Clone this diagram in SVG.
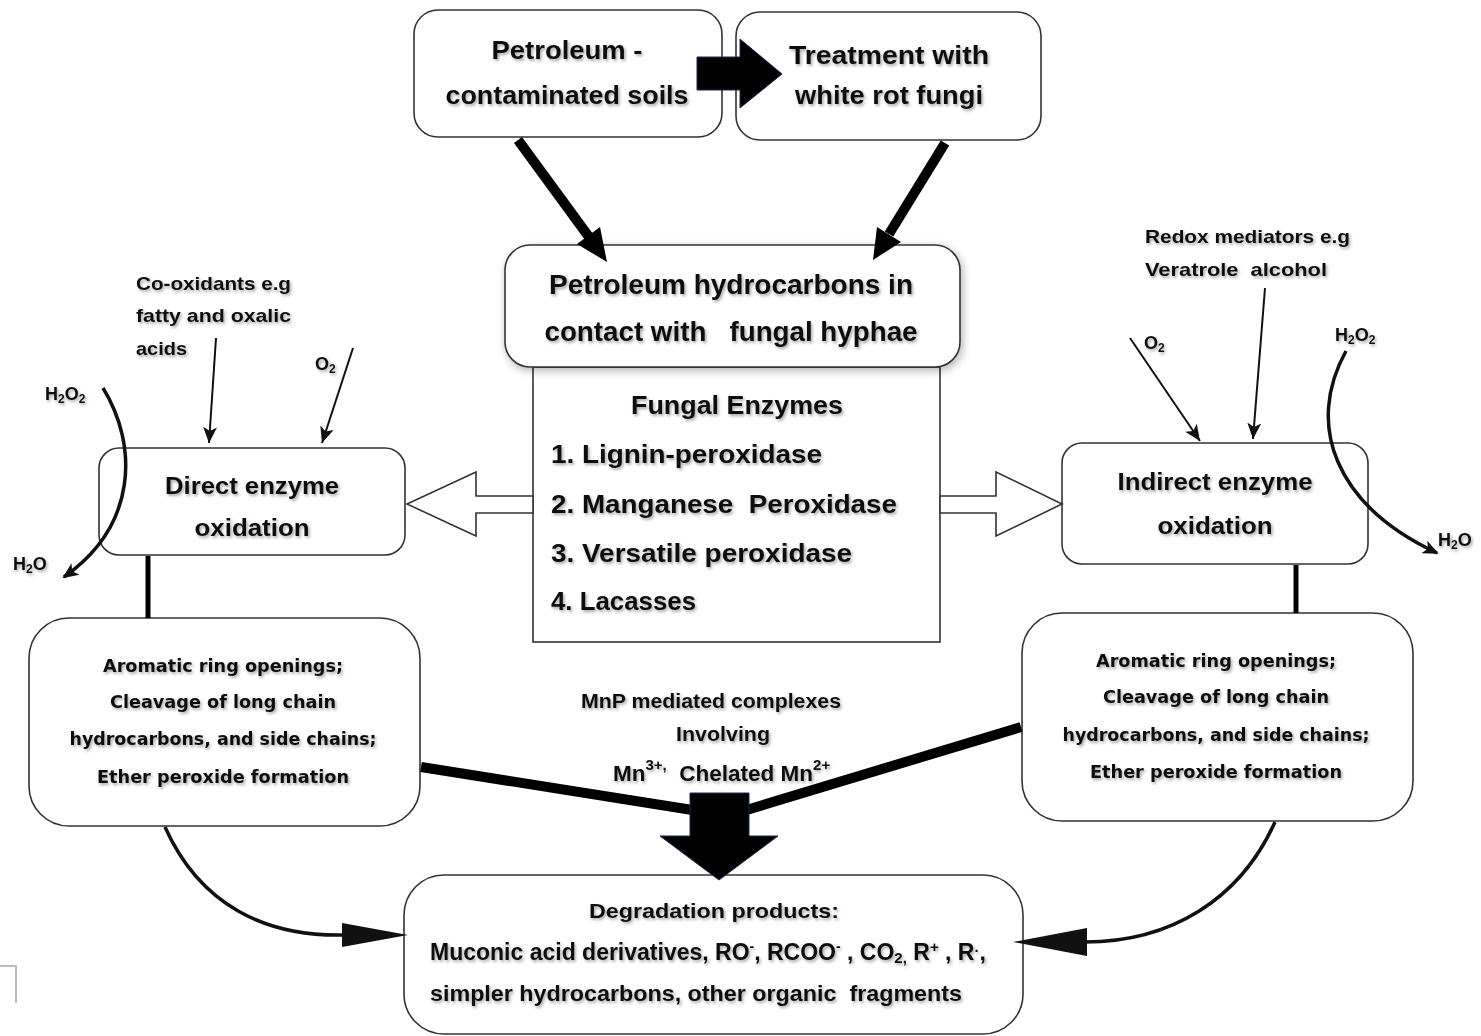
<svg xmlns="http://www.w3.org/2000/svg" width="1481" height="1036" viewBox="0 0 1481 1036">
<defs>
<style>
.box{fill:#fff;stroke:#333;stroke-width:1.6}
.t{font-family:"Liberation Sans",Arial,sans-serif;font-weight:bold;fill:#111;filter:url(#ts)}
.v{font-family:"DejaVu Sans","Liberation Sans",sans-serif;font-weight:bold;fill:#111;filter:url(#ts)}
.thin{fill:none;stroke:#111;stroke-width:2;marker-end:url(#ah)}
.curve{fill:none;stroke:#111;stroke-width:3.5}
.thick{stroke:#000;stroke-width:10;fill:none}
.hollow{fill:#fff;stroke:#333;stroke-width:1.6}
</style>
<filter id="ts" x="-10%" y="-30%" width="120%" height="160%">
<feDropShadow dx="1.5" dy="2" stdDeviation="1.8" flood-color="#000" flood-opacity="0.35"/>
</filter>
<filter id="bs" x="-10%" y="-20%" width="120%" height="140%">
<feDropShadow dx="2" dy="3" stdDeviation="4" flood-color="#000" flood-opacity="0.3"/>
</filter>
<marker id="ah" markerUnits="userSpaceOnUse" markerWidth="18" markerHeight="16" refX="16" refY="8" orient="auto">
<path d="M0,1 L16,8 L0,15 L4,8 Z" fill="#111"/>
</marker>
<marker id="ah2" markerUnits="userSpaceOnUse" markerWidth="18" markerHeight="16" refX="14" refY="8" orient="auto">
<path d="M0,1 L16,8 L0,15 L4,8 Z" fill="#111"/>
</marker>
</defs>
<rect width="1481" height="1036" fill="#fff"/>

<g id="n-soils">
<rect class="box" x="414" y="10" width="308" height="127" rx="24"/>
<text class="t" x="567" y="59" font-size="25" text-anchor="middle" textLength="151" lengthAdjust="spacingAndGlyphs">Petroleum -</text>
<text class="t" x="567" y="104" font-size="25" text-anchor="middle" textLength="243" lengthAdjust="spacingAndGlyphs">contaminated soils</text>
</g>
<g id="n-treatment">
<rect class="box" x="736" y="12" width="305" height="128" rx="24"/>
<text class="t" x="889" y="64" font-size="25" text-anchor="middle" textLength="200" lengthAdjust="spacingAndGlyphs">Treatment with</text>
<text class="t" x="889" y="104" font-size="25" text-anchor="middle" textLength="188" lengthAdjust="spacingAndGlyphs">white rot fungi</text>
</g>
<g id="n-enzymes">
<rect x="533" y="367" width="407" height="275" fill="#fff" stroke="#333" stroke-width="1.6"/>
<text class="t" x="737" y="414" font-size="26" text-anchor="middle" textLength="212" lengthAdjust="spacingAndGlyphs">Fungal Enzymes</text>
<text class="t" x="551" y="463" font-size="26" textLength="271" lengthAdjust="spacingAndGlyphs">1. Lignin-peroxidase</text>
<text class="t" x="551" y="513" font-size="26" textLength="346" lengthAdjust="spacingAndGlyphs" xml:space="preserve">2. Manganese  Peroxidase</text>
<text class="t" x="551" y="562" font-size="26" textLength="301" lengthAdjust="spacingAndGlyphs">3. Versatile peroxidase</text>
<text class="t" x="551" y="610" font-size="26" textLength="145" lengthAdjust="spacingAndGlyphs">4. Lacasses</text>
</g>
<g id="n-hydrocarbons">
<rect class="box" x="505" y="245" width="455" height="122" rx="25" filter="url(#bs)"/>
<text class="t" x="731" y="294" font-size="27" text-anchor="middle" textLength="364" lengthAdjust="spacingAndGlyphs">Petroleum hydrocarbons in</text>
<text class="t" x="731" y="341" font-size="27" text-anchor="middle" textLength="373" lengthAdjust="spacingAndGlyphs" xml:space="preserve">contact with   fungal hyphae</text>
</g>
<g id="n-direct">
<rect class="box" x="99" y="448" width="306" height="107" rx="20"/>
<text class="t" x="252" y="494" font-size="24" text-anchor="middle" textLength="174" lengthAdjust="spacingAndGlyphs">Direct enzyme</text>
<text class="t" x="252" y="536" font-size="24" text-anchor="middle" textLength="115" lengthAdjust="spacingAndGlyphs">oxidation</text>
</g>
<g id="n-indirect">
<rect class="box" x="1062" y="443" width="306" height="121" rx="20"/>
<text class="t" x="1215" y="490" font-size="24" text-anchor="middle" textLength="195" lengthAdjust="spacingAndGlyphs">Indirect enzyme</text>
<text class="t" x="1215" y="534" font-size="24" text-anchor="middle" textLength="115" lengthAdjust="spacingAndGlyphs">oxidation</text>
</g>
<g id="n-cooxidants">
<text class="t" x="136" y="290" font-size="19" textLength="155" lengthAdjust="spacingAndGlyphs">Co-oxidants e.g</text>
<text class="t" x="136" y="322" font-size="19" textLength="155" lengthAdjust="spacingAndGlyphs">fatty and oxalic</text>
<text class="t" x="136" y="355" font-size="19" textLength="51" lengthAdjust="spacingAndGlyphs">acids</text>
</g>
<g id="n-o2-left"><text class="t" x="315" y="370" font-size="18">O<tspan font-size="12" dy="3">2</tspan></text></g>
<g id="n-h2o2-left"><text class="t" x="45" y="400" font-size="18">H<tspan font-size="12" dy="3">2</tspan><tspan dy="-3">O</tspan><tspan font-size="12" dy="3">2</tspan></text></g>
<g id="n-h2o-left"><text class="t" x="13" y="570" font-size="18">H<tspan font-size="12" dy="3">2</tspan><tspan dy="-3">O</tspan></text></g>
<g id="n-redox">
<text class="t" x="1145" y="243" font-size="19" textLength="205" lengthAdjust="spacingAndGlyphs">Redox mediators e.g</text>
<text class="t" x="1145" y="276" font-size="19" textLength="182" lengthAdjust="spacingAndGlyphs" xml:space="preserve">Veratrole  alcohol</text>
</g>
<g id="n-o2-right"><text class="t" x="1144" y="349" font-size="18">O<tspan font-size="12" dy="3">2</tspan></text></g>
<g id="n-h2o2-right"><text class="t" x="1335" y="341" font-size="18">H<tspan font-size="12" dy="3">2</tspan><tspan dy="-3">O</tspan><tspan font-size="12" dy="3">2</tspan></text></g>
<g id="n-h2o-right"><text class="t" x="1438" y="546" font-size="18">H<tspan font-size="12" dy="3">2</tspan><tspan dy="-3">O</tspan></text></g>
<g id="n-left-products">
<rect class="box" x="29" y="618" width="391" height="208" rx="40"/>
<text class="v" x="223" y="672" font-size="18" text-anchor="middle" textLength="240" lengthAdjust="spacingAndGlyphs">Aromatic ring openings;</text>
<text class="v" x="223" y="708" font-size="18" text-anchor="middle" textLength="226" lengthAdjust="spacingAndGlyphs">Cleavage of long chain</text>
<text class="v" x="223" y="745" font-size="18" text-anchor="middle" textLength="307" lengthAdjust="spacingAndGlyphs">hydrocarbons, and side chains;</text>
<text class="v" x="223" y="783" font-size="18" text-anchor="middle" textLength="252" lengthAdjust="spacingAndGlyphs">Ether peroxide formation</text>
</g>
<g id="n-right-products">
<rect class="box" x="1022" y="613" width="391" height="208" rx="40"/>
<text class="v" x="1216" y="667" font-size="18" text-anchor="middle" textLength="240" lengthAdjust="spacingAndGlyphs">Aromatic ring openings;</text>
<text class="v" x="1216" y="703" font-size="18" text-anchor="middle" textLength="226" lengthAdjust="spacingAndGlyphs">Cleavage of long chain</text>
<text class="v" x="1216" y="741" font-size="18" text-anchor="middle" textLength="307" lengthAdjust="spacingAndGlyphs">hydrocarbons, and side chains;</text>
<text class="v" x="1216" y="778" font-size="18" text-anchor="middle" textLength="252" lengthAdjust="spacingAndGlyphs">Ether peroxide formation</text>
</g>
<g id="n-mnp">
<text class="t" x="711" y="708" font-size="20" text-anchor="middle" textLength="260" lengthAdjust="spacingAndGlyphs">MnP mediated complexes</text>
<text class="t" x="723" y="741" font-size="20" text-anchor="middle" textLength="94" lengthAdjust="spacingAndGlyphs">Involving</text>
<text class="t" x="613" y="781" font-size="22.5">Mn<tspan font-size="15" dy="-11">3+,</tspan><tspan dy="11" xml:space="preserve">  Chelated Mn</tspan><tspan font-size="15" dy="-11">2+</tspan></text>
</g>
<g id="n-degradation">
<rect class="box" x="404" y="875" width="619" height="159" rx="40"/>
<text class="t" x="714" y="918" font-size="21" text-anchor="middle" textLength="250" lengthAdjust="spacingAndGlyphs">Degradation products:</text>
<text class="t" x="430" y="960" font-size="23">Muconic acid derivatives, RO<tspan font-size="14" dy="-9">-</tspan><tspan dy="9">, RCOO</tspan><tspan font-size="14" dy="-9">-</tspan><tspan dy="9"> , CO</tspan><tspan font-size="15" dy="3">2,</tspan><tspan dy="-3"> R</tspan><tspan font-size="15" dy="-8">+</tspan><tspan dy="8"> , R</tspan><tspan font-size="15" dy="-4">·</tspan><tspan dy="4">,</tspan></text>
<text class="t" x="430" y="1001" font-size="22" textLength="532" lengthAdjust="spacingAndGlyphs" xml:space="preserve">simpler hydrocarbons, other organic  fragments</text>
</g>

<g id="connectors">
<line class="thick" x1="518" y1="140" x2="589" y2="237"/>
<polygon points="607,262 600,227 577,244" fill="#000"/>
<line class="thick" x1="945" y1="143" x2="889" y2="234"/>
<polygon points="873,260 901,242 877,227" fill="#000"/>
<polygon points="697,57 740,57 740,39 782,74 740,108 740,90 697,90" fill="#000" stroke="#1a2a5a" stroke-width="1"/>
<polygon class="hollow" points="533,496 476,496 476,472 407,504 476,536 476,513 533,513"/>
<polygon class="hollow" points="940,496 996,496 996,472 1062,504 996,536 996,513 940,513"/>
<line class="thin" x1="216" y1="338" x2="209" y2="443"/>
<line class="thin" x1="353" y1="348" x2="322" y2="443"/>
<line class="thin" x1="1130" y1="338" x2="1200" y2="441"/>
<line class="thin" x1="1265" y1="288" x2="1253" y2="439"/>
<path class="curve" d="M103,388 C138,445 138,525 64,577" marker-end="url(#ah2)"/>
<path class="curve" d="M1346,351 C1305,425 1335,505 1437,553" marker-end="url(#ah2)"/>
<line x1="148" y1="556" x2="148" y2="618" stroke="#000" stroke-width="5"/>
<line x1="1296" y1="565" x2="1296" y2="613" stroke="#000" stroke-width="5"/>
<line class="thick" x1="421" y1="767" x2="705" y2="812"/>
<line class="thick" x1="1021" y1="727" x2="740" y2="812"/>
<polygon points="690,793 749,793 749,836 778,836 719,880 660,836 690,836" fill="#000" stroke="#1a2a5a" stroke-width="1"/>
<path class="curve" d="M165,827 C200,905 265,937 345,935"/>
<polygon points="342,923 408,935 342,947" fill="#111"/>
<path class="curve" d="M1275,822 C1240,900 1170,942 1085,942"/>
<polygon points="1087,928 1013,942 1087,956" fill="#111"/>
</g>
<polyline points="0,966 16,966 16,1003" fill="none" stroke="#bbb" stroke-width="2"/>
</svg>
